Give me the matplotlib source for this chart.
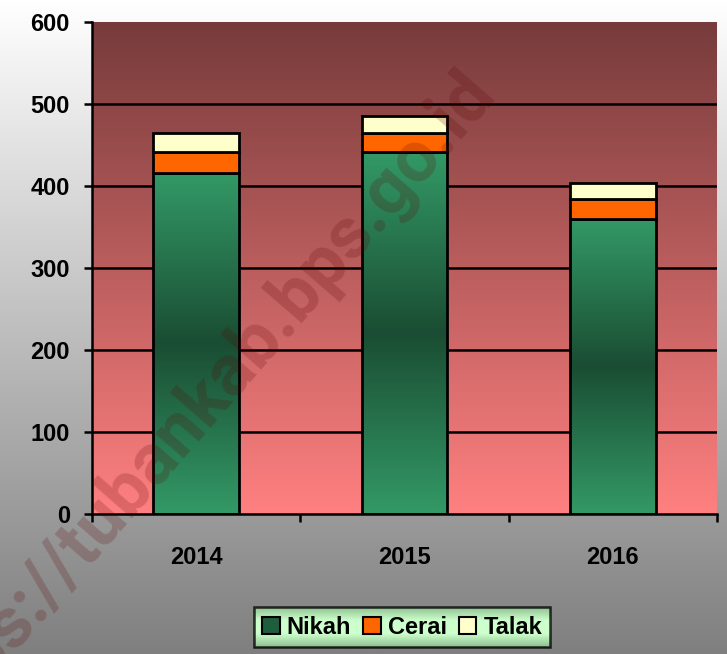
import numpy as np
import matplotlib
matplotlib.use("Agg")
import matplotlib.pyplot as plt
from matplotlib.patches import Patch
from matplotlib.colors import LinearSegmentedColormap

years = ["2014", "2015", "2016"]
nikah = [416, 441, 360]
cerai = [25, 24, 24]
talak = [24, 20, 20]
yticks = [0, 100, 200, 300, 400, 500, 600]

plt.rcParams['font.family'] = ['Liberation Sans', 'DejaVu Sans']

fig = plt.figure(figsize=(7.27, 6.54), dpi=100)

# figure background gradient
bg = fig.add_axes([0, 0, 1, 1], zorder=-10)
grad = np.linspace(0, 1, 256).reshape(-1, 1)
bg_cmap = LinearSegmentedColormap.from_list("bg", ["#ffffff", "#7f7f7f"])
bg.imshow(grad, cmap=bg_cmap, aspect='auto', extent=[0, 1, 0, 1], origin='upper')
bg.set_xlim(0, 1); bg.set_ylim(0, 1)
bg.axis('off')

ax = fig.add_axes([92/727, 1 - 514/654, (717-92)/727, (514-22)/654])
ax.set_zorder(0)
x = np.arange(len(years))
ax.set_xlim(-0.5, 2.5)
ax.set_ylim(0, 600)

# plot area gradient
pa_cmap = LinearSegmentedColormap.from_list("pa", ["#773b3b", "#ff8080"])
ax.imshow(grad, cmap=pa_cmap, aspect='auto', extent=[-0.5, 2.5, 0, 600],
          origin='upper', zorder=0)

for yv in yticks[1:-1]:
    ax.axhline(yv, color='black', lw=1.8, zorder=1)

w = 0.41
nik_bars = ax.bar(x, nikah, w, color='none', edgecolor='black', lw=2, zorder=3)
bottoms2 = np.array(nikah)
ax.bar(x, cerai, w, bottom=bottoms2, color='#ff6600', edgecolor='black', lw=2, zorder=3)
bottoms3 = bottoms2 + np.array(cerai)
ax.bar(x, talak, w, bottom=bottoms3, color='#ffffcc', edgecolor='black', lw=2, zorder=3)

g_cmap = LinearSegmentedColormap.from_list("gr", ["#339966", "#1a4d33", "#339966"])
for b in nik_bars:
    x0, y0 = b.get_x(), b.get_y()
    wd, ht = b.get_width(), b.get_height()
    im = ax.imshow(grad, cmap=g_cmap, aspect='auto',
                   extent=[x0, x0 + wd, y0, y0 + ht], origin='upper', zorder=2)
    im.set_clip_path(b)
ax.set_xlim(-0.5, 2.5)
ax.set_ylim(0, 600)

fs = 17
ax.set_xticks([-0.5, 0.5, 1.5, 2.5])
ax.set_xticklabels([])
ax.set_xticks(x, minor=True)
ax.set_xticklabels(years, minor=True, fontsize=fs, fontweight='bold')
ax.tick_params(axis='x', which='major', length=6, width=1.8, direction='out', color='black')
ax.tick_params(axis='x', which='minor', length=0, pad=23)
ax.set_yticks(yticks)
ax.set_yticklabels([str(v) for v in yticks], fontsize=fs, fontweight='bold')
ax.tick_params(axis='y', length=6, width=1.8, pad=10)

for s in ['top', 'right']:
    ax.spines[s].set_visible(False)
ax.spines['left'].set_linewidth(1.8)
ax.spines['bottom'].set_linewidth(1.8)
ax.spines['left'].set_zorder(4)
ax.spines['bottom'].set_zorder(4)

handles = [Patch(facecolor='#1f5e3d', edgecolor='black', lw=1.5),
           Patch(facecolor='#ff6600', edgecolor='black', lw=1.5),
           Patch(facecolor='#ffffcc', edgecolor='black', lw=1.5)]
leg = fig.legend(handles, ["Nikah", "Cerai", "Talak"], ncol=3,
                 loc='center', bbox_to_anchor=(402/727, 1 - 627/654),
                 frameon=True, fancybox=False, edgecolor='black',
                 prop={'size': fs, 'weight': 'bold'},
                 handlelength=0.75, handleheight=0.75, handletextpad=0.3,
                 columnspacing=0.5, borderpad=0.35, borderaxespad=0)
leg.get_frame().set_linewidth(1.8)
leg.get_frame().set_facecolor('none')
leg.set_zorder(6)

fig.canvas.draw()
bb = leg.get_window_extent().transformed(fig.transFigure.inverted())
lg = fig.add_axes([bb.x0, bb.y0, bb.width, bb.height], zorder=5)
lg_cmap = LinearSegmentedColormap.from_list("lg", ["#8fbf8f", "#ccffcc", "#ccffcc", "#8fbf8f"])
lg.imshow(grad, cmap=lg_cmap, aspect='auto', extent=[0, 1, 0, 1], origin='upper')
lg.axis('off')

fig.text(482/727, 1 - 82/654, "https://tubankab.bps.go.id", rotation=49,
         rotation_mode='anchor', ha='right', va='center', fontsize=52,
         fontweight='bold', family=['Roboto', 'DejaVu Sans'],
         color='#5a0000', alpha=0.2, zorder=20)

fig.savefig("out.png", dpi=100)
